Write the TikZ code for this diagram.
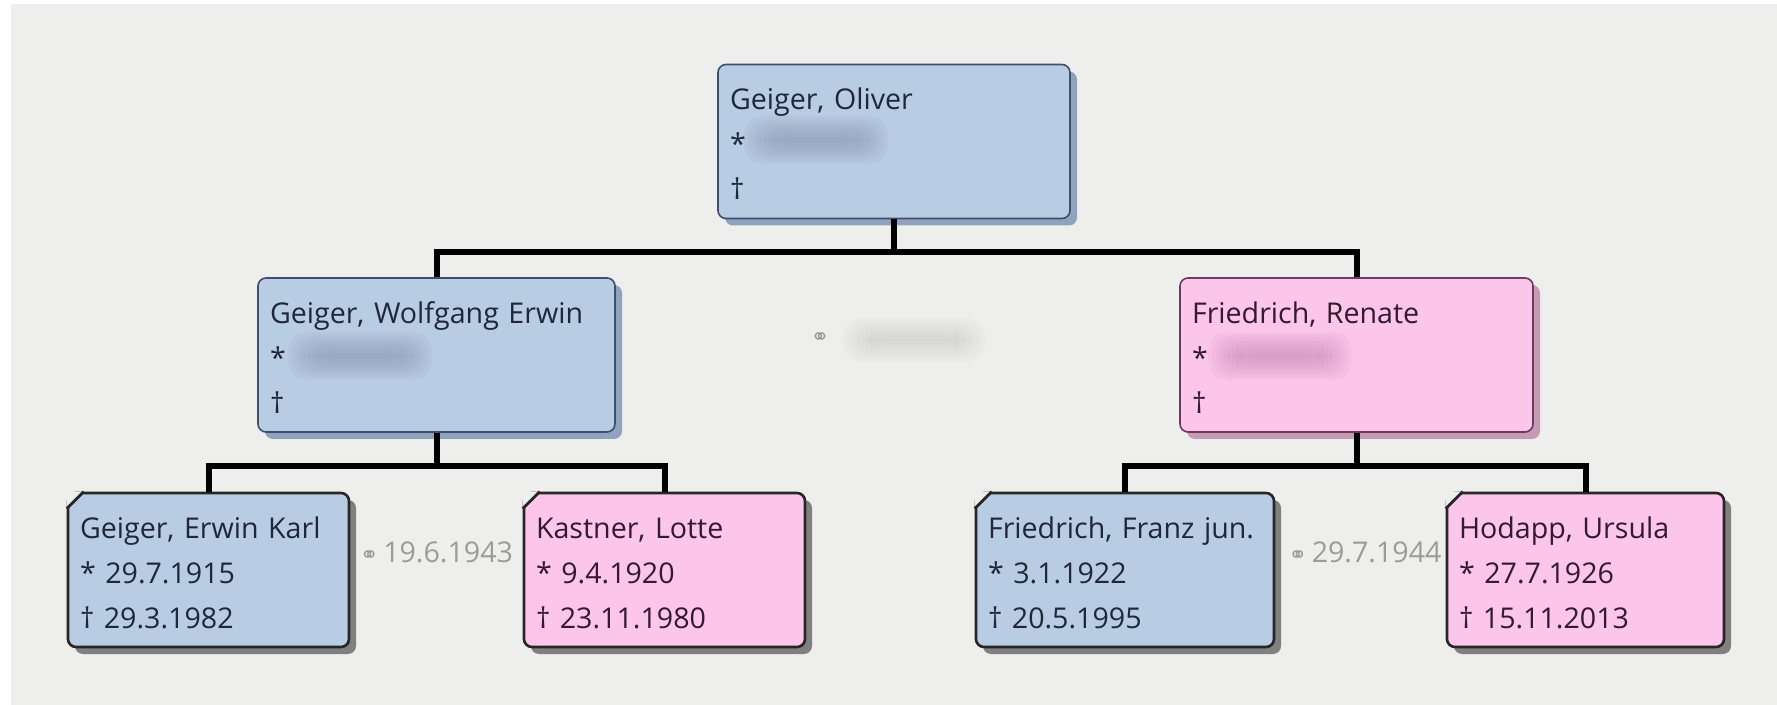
\documentclass[tikz,border=0pt]{standalone}
\usepackage{fontspec}
\setmainfont{Open Sans}
\newfontfamily\marrfont{DejaVu Sans}
\usetikzlibrary{shadows,positioning}
\definecolor{CanvasGray}{RGB}{238,238,236}
\definecolor{MaleFill}{RGB}{184,204,228}
\definecolor{MaleLine}{RGB}{61,79,107}
\definecolor{MaleShade}{RGB}{143,162,190}
\definecolor{MaleText}{RGB}{30,40,58}
\definecolor{FemaleFill}{RGB}{252,198,234}
\definecolor{FemaleLine}{RGB}{107,58,94}
\definecolor{FemaleShade}{RGB}{199,155,180}
\definecolor{FemaleText}{RGB}{52,26,46}
\definecolor{DateGray}{RGB}{155,155,155}
\definecolor{BlurBlue}{RGB}{130,146,172}
\definecolor{BlurPink}{RGB}{196,130,178}

\begin{document}
\begin{tikzpicture}[x=0.5pt,y=-0.5pt,
        pbox/.style={rectangle,rounded corners=4pt,line width=0.8pt,align=left,
                     font=\fontsize{14.3}{22.5}\selectfont,inner xsep=6pt,inner ysep=0pt,
                     minimum height=77pt,
                     execute at begin node=\rule{0pt}{20pt},execute at end node=\strut},
        male/.style={pbox,fill=MaleFill,draw=MaleLine,text=MaleText},
        female/.style={pbox,fill=FemaleFill,draw=FemaleLine,text=FemaleText},
        lift/.style={drop shadow={shadow xshift=3.5pt,shadow yshift=-3.5pt,fill=#1,opacity=1}},
        kid/.style={line width=1.3pt,draw=black!85,lift=black!50},
        famline/.style={line width=3pt,black},
        marr/.style={text=DateGray,font=\fontsize{14.3}{18}\selectfont,inner sep=0pt,anchor=base},
        cornermark/.style={line width=1.4pt,black!85}
      ]
        % canvas
        \fill[white] (0,0) rectangle (1777,705);
        \fill[CanvasGray] (11,4) rectangle (1777,705);
        \useasboundingbox (0,0) rectangle (1777,705);

        % persons
        \node[male,lift=MaleShade,text width=164pt] (oliver) at (894,141.5) {Geiger, Oliver\\{*}\\\textdagger};
        \node[male,lift=MaleShade,text width=166.5pt] (wolfgang) at (436.5,355) {Geiger, Wolfgang Erwin\\{*}\\\textdagger};
        \node[female,lift=FemaleShade,text width=164.5pt] (renate) at (1356.5,355) {Friedrich, Renate\\{*}\\\textdagger};
        \node[male,kid,text width=128.5pt] (erwin) at (208.5,570) {Geiger, Erwin Karl\\{*} 29.7.1915\\\textdagger{} 29.3.1982};
        \node[female,kid,text width=128.5pt] (kastner) at (664.5,570) {Kastner, Lotte\\{*} 9.4.1920\\\textdagger{} 23.11.1980};
        \node[male,kid,text width=137pt] (franz) at (1125,570) {Friedrich, Franz jun.\\{*} 3.1.1922\\\textdagger{} 20.5.1995};
        \node[female,kid,text width=126.5pt] (hodapp) at (1585.5,570) {Hodapp, Ursula\\{*} 27.7.1926\\\textdagger{} 15.11.2013};

        % hidden dates
        \foreach \bx/\by/\bc in {744/140/BlurBlue,288/356/BlurBlue,1208/356/BlurPink}
          \foreach \k in {0,...,7}
            \fill[\bc,opacity=0.09,rounded corners=10pt] (\bx+4*\k,\by-24+3*\k) rectangle (\bx+144-4*\k,\by+24-3*\k);
        \foreach \k in {0,...,7}
          \fill[black!30,opacity=0.05,rounded corners=10pt] (842+4*\k,318+3*\k) rectangle (986-4*\k,362-3*\k);

        % marriages
        \node[marr] (wed0) at (820,345) {\marrfont\fontsize{11}{11}\selectfont ⚭};
        \node[marr] (wed1) at (436.5,562) {{\marrfont\fontsize{11}{11}\selectfont ⚭}\,19.6.1943};
        \node[marr] (wed2) at (1365,562) {{\marrfont\fontsize{11}{11}\selectfont ⚭}\,29.7.1944};

        % family lines
        \draw[famline] (oliver.south) -- ++(0,33) -| (wolfgang.north);
        \draw[famline] (oliver.south) -- ++(0,33) -| (renate.north);
        \draw[famline] (wolfgang.south) -- ++(0,33) -| (erwin.north);
        \draw[famline] (wolfgang.south) -- ++(0,33) -| (kastner.north);
        \draw[famline] (renate.south) -- ++(0,33) -| (franz.north);
        \draw[famline] (renate.south) -- ++(0,33) -| (hodapp.north);

        % corner marks
        \foreach \p in {erwin,kastner,franz,hodapp}{
          \fill[CanvasGray] (\p.north west) -- ([yshift=-8.5pt]\p.north west) -- ([xshift=8.5pt]\p.north west) -- cycle;
          \draw[cornermark] ([yshift=-8.5pt]\p.north west) -- ([xshift=8.5pt]\p.north west);
        }
      \end{tikzpicture}
\end{document}
